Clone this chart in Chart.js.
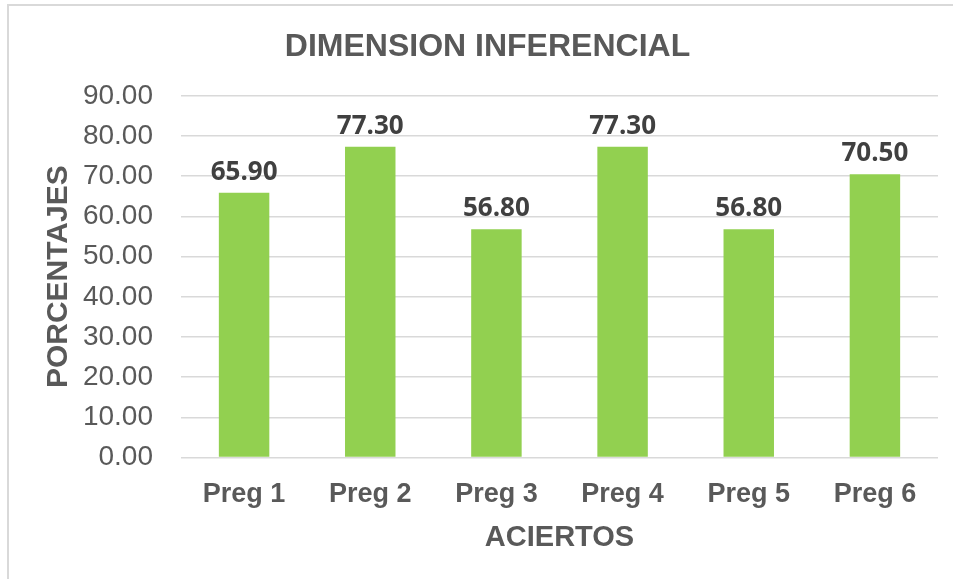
<!DOCTYPE html>
<html>
<head>
<meta charset="utf-8">
<script src="https://cdn.jsdelivr.net/npm/chart.js@4/dist/chart.umd.min.js"></script>
<style>
  html, body { margin: 0; padding: 0; background: #fff; }
  #wrap { width: 953px; height: 579px; position: relative; }
</style>
</head>
<body>
<div id="wrap"><canvas id="bars"></canvas></div>
<script>
  const categories = ['Preg 1', 'Preg 2', 'Preg 3', 'Preg 4', 'Preg 5', 'Preg 6'];
  const aciertos = [65.9, 77.3, 56.8, 77.3, 56.8, 70.5];
  const yMin = 0, yMax = 90, yStep = 10;

  const grey = '#595959';
  const arial = '"Liberation Sans", Arial, sans-serif';

  // value labels over each bar
  const valueLabels = {
    id: 'valueLabels',
    afterDatasetsDraw(chart) {
      const ctx = chart.ctx;
      const meta = chart.getDatasetMeta(0);
      ctx.save();
      ctx.font = 'bold 26px "Open Sans", sans-serif';
      ctx.fillStyle = '#404040';
      ctx.textAlign = 'center';
      ctx.textBaseline = 'alphabetic';
      meta.data.forEach((bar, i) => {
        ctx.fillText(aciertos[i].toFixed(2), bar.x, bar.y - 13);
      });
      ctx.restore();
    }
  };

  // outer frame like the office chart area
  const frame = {
    id: 'frame',
    beforeDraw(chart) {
      const ctx = chart.ctx;
      ctx.save();
      ctx.strokeStyle = '#d9d9d9';
      ctx.lineWidth = 2;
      ctx.beginPath();
      ctx.moveTo(8, chart.height);
      ctx.lineTo(8, 5);
      ctx.lineTo(chart.width, 5);
      ctx.stroke();
      ctx.restore();
    }
  };

  new Chart(document.getElementById('bars'), {
    type: 'bar',
    data: {
      labels: categories,
      datasets: [{
        data: aciertos,
        backgroundColor: '#92d050',
        borderWidth: 0,
        barPercentage: 0.4,
        categoryPercentage: 1
      }]
    },
    options: {
      responsive: true,
      maintainAspectRatio: false,
      animation: false,
      layout: { padding: { left: 37, right: 15, top: 0, bottom: 27 } },
      plugins: {
        legend: { display: false },
        tooltip: { enabled: false },
        title: {
          display: true,
          text: 'DIMENSION INFERENCIAL',
          color: grey,
          font: { family: arial, size: 32, weight: 'bold', lineHeight: 1.15 },
          padding: { top: 29, bottom: 30 }
        }
      },
      scales: {
        x: {
          grid: { display: false },
          border: { display: false },
          ticks: { color: grey, padding: 13, font: { family: arial, size: 27, weight: 'bold' } },
          title: {
            display: true, text: 'ACIERTOS', color: grey, padding: { top: -1, bottom: 0 },
            font: { family: arial, size: 29, weight: 'bold', lineHeight: 1 }
          }
        },
        y: {
          min: yMin, max: yMax,
          afterFit: (scale) => { scale.width = 144; },
          ticks: {
            stepSize: yStep, color: grey, padding: 28,
            font: { family: arial, size: 28 },
            callback: (v) => Number(v).toFixed(2)
          },
          grid: { color: '#d9d9d9', lineWidth: 1.5, drawTicks: false },
          border: { display: false },
          title: {
            display: true, text: 'PORCENTAJES', color: grey, padding: { top: 4, bottom: 4 },
            font: { family: arial, size: 30, weight: 'bold' }
          }
        }
      }
    },
    plugins: [valueLabels, frame]
  });
</script>
</body>
</html>
